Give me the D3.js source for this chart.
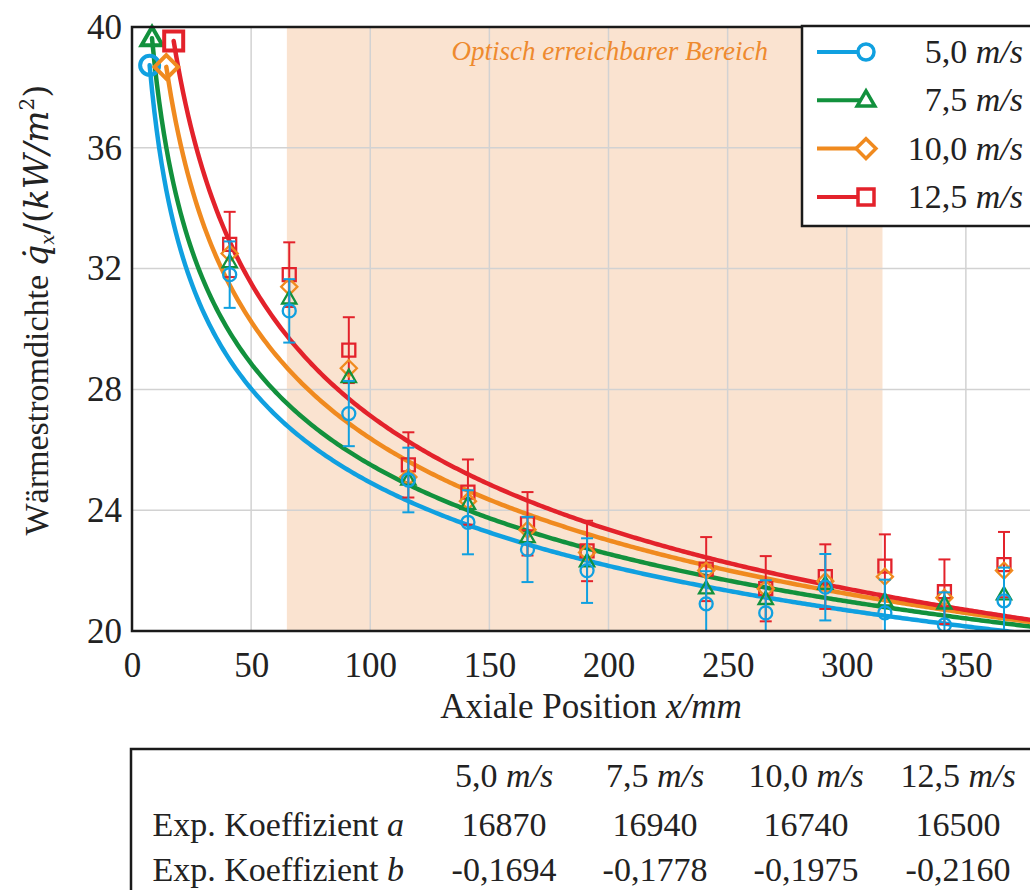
<!DOCTYPE html>
<meta charset="utf-8">
<style>
body { margin: 0; background: #fff; }
svg { display: block; }
text { font-family: "Liberation Serif", "Times New Roman", Times, serif; fill: #222; }
.math { font-family: "DejaVu Serif", serif; font-style: italic; }
.grid line { stroke: #d2d2d2; stroke-width: 1.5px; }
.axis path, .axis line { display: none; }
.axis text { font-size: 35px; font-family: "Liberation Serif", "Times New Roman", Times, serif; fill: #222; }
</style>
<svg width="1030" height="890"></svg>
<script src="https://d3js.org/d3.v7.min.js"></script>
<script>

// measured positions (mm) and heat flux density (kW/m^2)
var positions = [41, 66, 91, 116, 141, 166, 191, 241, 266, 291, 316, 341, 366];

var speeds = ["5,0", "7,5", "10,0", "12,5"];
var colors = ["#10a0e0", "#12913d", "#f08a1f", "#e3222b"];

var q50  = [31.8, 30.6, 27.2, 25.0, 23.6, 22.7, 22.0, 20.9, 20.6, 21.45, 20.6, 20.2, 21.0];
var q75  = [32.2, 31.0, 28.4, 25.0, 24.2, 23.1, 22.3, 21.4, 21.05, 21.55, 21.0, 20.9, 21.2];
var q100 = [32.5, 31.4, 28.7, 25.1, 24.3, 23.35, 22.6, 22.0, 21.4, 21.65, 21.8, 21.1, 22.0];
var q125 = [32.8, 31.8, 29.3, 25.5, 24.6, 23.55, 22.65, 22.05, 21.4, 21.8, 22.15, 21.3, 22.2];

// error bars are only drawn for 5,0 and 12,5 m/s
var err50  = [1.1, 1.05, 1.08, 1.07, 1.06, 1.08, 1.07, 1.08, 1.08, 1.1, 1.1, 1.08, 1.1];
var err125 = [1.08, 1.07, 1.09, 1.08, 1.08, 1.05, 1.0, 1.06, 1.08, 1.07, 1.05, 1.07, 1.08];

// fit q = a * x^b  (x in m, q in W/m^2)
var coefA = [16870, 16940, 16740, 16500];
var coefB = [-0.1694, -0.1778, -0.1975, -0.2160];
var fitStart = [7.4, 8.4, 14.4, 17.5];   // mm, first point of each fit curve

var xTicks = [0, 50, 100, 150, 200, 250, 300, 350];
var yTicks = [20, 24, 28, 32, 36, 40];
var opticalRange = [65, 315];

var series = [
  {q: q50,  err: err50,  sym: "circle"},
  {q: q75,  err: null,   sym: "triangle"},
  {q: q100, err: null,   sym: "diamond"},
  {q: q125, err: err125, sym: "square"}
];

var svg = d3.select("svg");

var x = d3.scaleLinear().domain([0, 400]).range([132, 1085]);
var y = d3.scaleLinear().domain([20, 40]).range([631, 27]);

var pLeft = x(0), pRight = x(400), pTop = y(40), pBottom = y(20);

svg.append("clipPath").attr("id", "plot")
  .append("rect").attr("x", pLeft).attr("y", pTop)
  .attr("width", pRight - pLeft).attr("height", pBottom - pTop);

// optical range
svg.append("rect")
    .attr("x", x(opticalRange[0])).attr("y", pTop)
    .attr("width", x(opticalRange[1]) - x(opticalRange[0]))
    .attr("height", pBottom - pTop)
    .attr("fill", "#fae3d0");

// grid
var grid = svg.append("g").attr("class", "grid");
grid.selectAll(".v").data(xTicks.slice(1)).enter().append("line")
    .attr("x1", d => x(d)).attr("x2", d => x(d))
    .attr("y1", pTop).attr("y2", pBottom);
grid.selectAll(".h").data(yTicks.slice(1, -1)).enter().append("line")
    .attr("x1", pLeft).attr("x2", pRight)
    .attr("y1", d => y(d)).attr("y2", d => y(d));

svg.append("text")
    .attr("x", x(200.5)).attr("y", 60)
    .attr("text-anchor", "middle")
    .style("font-style", "italic").style("font-size", "27px")
    .style("fill", "#ee8a2e")
    .text("Optisch erreichbarer Bereich");

// axes
svg.append("g").attr("class", "axis")
    .attr("transform", "translate(0," + pBottom + ")")
    .call(d3.axisBottom(x).tickValues(xTicks).tickSize(0).tickPadding(21).tickFormat(d3.format("d")))
    .attr("font-family", null).attr("font-size", null);

svg.append("g").attr("class", "axis")
    .attr("transform", "translate(" + pLeft + ",0)")
    .call(d3.axisLeft(y).tickValues(yTicks).tickSize(0).tickPadding(10).tickFormat(d3.format("d")))
    .attr("font-family", null).attr("font-size", null);

// symbols
function symPath(sym, size) {
  if (sym == "circle") return d3.symbol(d3.symbolCircle, size * size * Math.PI / 4)();
  if (sym == "square") return d3.symbol(d3.symbolSquare, size * size)();
  if (sym == "triangle") {
    var h = size * 0.95, w = size * 1.1;
    return "M0," + (-h * 0.62) + "L" + (w / 2) + "," + (h * 0.38) + "L" + (-w / 2) + "," + (h * 0.38) + "Z";
  }
  var r = size * 0.62;
  return "M0," + (-r) + "L" + r + ",0L0," + r + "L" + (-r) + ",0Z";
}

// fit curves
var curves = svg.append("g").attr("clip-path", "url(#plot)");
var line = d3.line().x(d => x(d[0])).y(d => y(d[1]));
series.forEach(function(s, i) {
  var pts = [];
  for (var xv = fitStart[i]; xv <= 400; xv += 1) {
    pts.push([xv, coefA[i] * Math.pow(xv / 1000, coefB[i]) / 1000]);
  }
  s.start = pts[0];
  curves.append("path")
      .attr("d", line(pts))
      .attr("fill", "none")
      .attr("stroke", colors[i])
      .attr("stroke-width", 4.5)
      .attr("stroke-linecap", "round");
});

// start markers of the fit curves
series.forEach(function(s, i) {
  svg.append("path")
      .attr("d", symPath(s.sym, 19))
      .attr("transform", "translate(" + x(s.start[0]) + "," + y(s.start[1]) + ")")
      .attr("fill", "none")
      .attr("stroke", colors[i])
      .attr("stroke-width", 4);
});

// measured points, drawn red first so blue ends on top
[3, 2, 1, 0].forEach(function(i) {
  var s = series[i];
  var g = svg.append("g").attr("clip-path", "url(#plot)");
  if (s.err) {
    positions.forEach(function(p, k) {
      var x0 = x(p), y1 = y(s.q[k] + s.err[k]), y2 = y(s.q[k] - s.err[k]);
      g.append("line").attr("x1", x0).attr("x2", x0).attr("y1", y1).attr("y2", y2)
          .attr("stroke", colors[i]).attr("stroke-width", 2);
      [y1, y2].forEach(function(yy) {
        g.append("line").attr("x1", x0 - 6).attr("x2", x0 + 6).attr("y1", yy).attr("y2", yy)
            .attr("stroke", colors[i]).attr("stroke-width", 2);
      });
    });
  }
  g.selectAll(".pt").data(positions).enter().append("path")
      .attr("d", symPath(s.sym, 13))
      .attr("transform", (p, k) => "translate(" + x(p) + "," + y(s.q[k]) + ")")
      .attr("fill", "none")
      .attr("stroke", colors[i])
      .attr("stroke-width", 2.3);
});

// frame
svg.append("path")
    .attr("d", "M" + pRight + "," + pTop + "H" + pLeft + "V" + pBottom + "H" + pRight)
    .attr("fill", "none").attr("stroke", "#1a1a1a").attr("stroke-width", 2.5);

// legend
var leg = svg.append("g");
leg.append("rect").attr("x", 802).attr("y", 26).attr("width", 300).attr("height", 200)
    .attr("fill", "#fff").attr("stroke", "#1a1a1a").attr("stroke-width", 2.5);
speeds.forEach(function(sp, i) {
  var yy = 52 + i * 48.3;
  leg.append("line").attr("x1", 817).attr("x2", 862).attr("y1", yy).attr("y2", yy)
      .attr("stroke", colors[i]).attr("stroke-width", 4);
  leg.append("path").attr("d", symPath(series[i].sym, 16))
      .attr("transform", "translate(866," + yy + ")")
      .attr("fill", "#fff").attr("stroke", colors[i]).attr("stroke-width", 3.5);
  var t = leg.append("text").attr("x", 1023).attr("y", yy + 11)
      .attr("text-anchor", "end").style("font-size", "34px");
  t.append("tspan").text(sp + " ");
  t.append("tspan").style("font-style", "italic").text("m/s");
});

// axis titles
var xt = svg.append("text").attr("x", 591).attr("y", 718)
    .attr("text-anchor", "middle").style("font-size", "35px");
xt.append("tspan").text("Axiale Position ");
xt.append("tspan").style("font-style", "italic").text("x/mm");

var yt = svg.append("text").attr("transform", "translate(48,310) rotate(-90)")
    .attr("text-anchor", "middle").style("font-size", "34px");
yt.append("tspan").text("Wärmestromdichte ");
yt.append("tspan").attr("class", "math").style("font-size", "34px").text("q\u0307");
yt.append("tspan").attr("class", "math").style("font-size", "18px").attr("dy", 6).text("x");
yt.append("tspan").attr("class", "math").style("font-size", "34px").style("font-style", "normal")
    .attr("dy", -6).text("/(");
yt.append("tspan").attr("class", "math").style("font-size", "34px").text("kW/m");
yt.append("tspan").attr("class", "math").style("font-size", "20px").style("font-style", "normal")
    .attr("dy", -14).text("2");
yt.append("tspan").attr("class", "math").style("font-size", "34px").style("font-style", "normal")
    .attr("dy", 14).text(")");

// coefficient table
var tableCols = [504, 655, 806, 958];
var fmtB = d => d3.format(".4f")(d).replace(".", ",").replace("\u2212", "-");
svg.append("rect").attr("x", 131).attr("y", 749).attr("width", 1000).attr("height", 200)
    .attr("fill", "none").attr("stroke", "#1a1a1a").attr("stroke-width", 2.5);

var rows = [
  {label: null, vals: speeds, y: 787},
  {label: "a", vals: coefA.map(String), y: 836},
  {label: "b", vals: coefB.map(fmtB), y: 881}
];
rows.forEach(function(r, ri) {
  if (r.label) {
    var lt = svg.append("text").attr("x", 404).attr("y", r.y)
        .attr("text-anchor", "end").style("font-size", "34px");
    lt.append("tspan").text("Exp. Koeffizient ");
    lt.append("tspan").style("font-style", "italic").text(r.label);
  }
  r.vals.forEach(function(v, ci) {
    var t = svg.append("text").attr("x", tableCols[ci]).attr("y", r.y)
        .attr("text-anchor", "middle").style("font-size", "34px");
    t.append("tspan").text(v);
    if (ri == 0) {
      t.append("tspan").text(" ");
      t.append("tspan").style("font-style", "italic").text("m/s");
    }
  });
});

</script>
